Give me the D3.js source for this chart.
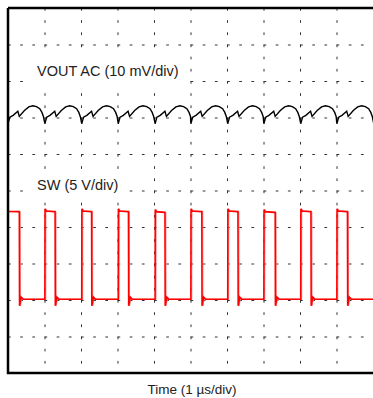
<!DOCTYPE html>
<meta charset="utf-8">
<style>
    body { margin: 0; background: #fff; }
    text { font-family: "Liberation Sans", Arial, sans-serif; fill: #222; }
    .grid line { stroke: #333; stroke-width: 1; stroke-dasharray: 2.7 9.47; }
    .grid path { display: none; }
</style>
<svg width="373" height="398"></svg>
<script src="https://d3js.org/d3.v7.min.js"></script>
<script>
    // SW node: edge times (us) and levels (V), 5 V/div, zero on 8th line
    var swRise = [-0.98, 1.01, 2.02, 3.02, 4.03, 5.01, 6.02, 7.01, 8.02, 9.01];
    var swFall = [0.31, 1.29, 2.29, 3.30, 4.30, 5.31, 6.30, 7.32, 8.30, 9.30];
    var swHigh = [12.2, 12.2, 12.2, 12.2, 12.1, 12.2, 12.2, 12.1, 12.2, 12.2];
    var swLow = 0.1;

    // VOUT AC ripple (mV), one cycle, repeated at each cusp
    var voutCusp = [0.0, 1.01, 2.02, 3.02, 4.03, 5.01, 6.02, 7.01, 8.02, 9.01];
    var voutDt = [0, 0.05, 0.14, 0.27, 0.31, 0.45, 0.57, 0.68, 0.78, 0.87, 0.93, 0.97];
    var voutMv = [-1.7, 0.1, 0.6, 1.7, 0.3, 1.9, 2.9, 3.2, 3.0, 2.4, 1.4, 0.3];

    var labels = { vout: "VOUT AC (10 mV/div)", sw: "SW (5 V/div)", time: "Time (1 \u00b5s/div)" };

    var svg = d3.select("svg"),
        pl = 8, pt = 8, pr = 373, pb = 373;

    var x = d3.scaleLinear().domain([0, 10]).range([pl, pr]);
    var ySw = d3.scaleLinear().domain([-10, 40]).range([pb, pt]);
    var yV = d3.scaleLinear().domain([-70, 30]).range([pb, pt]);

    svg.append("rect").attr("width", 373).attr("height", 398).attr("fill", "#fff");

    svg.append("g").attr("class", "grid")
        .attr("transform", "translate(" + pl + ",0)")
        .call(d3.axisLeft(ySw).tickValues(d3.range(-5, 40, 5)).tickSize(-(pr - pl)).tickFormat(""));
    svg.append("g").attr("class", "grid")
        .attr("transform", "translate(0," + pt + ")")
        .call(d3.axisTop(x).tickValues(d3.range(1, 10)).tickSize(-(pb - pt)).tickFormat(""));

    // white boxes behind the channel labels
    svg.append("rect").attr("x", 28).attr("y", 48).attr("width", 160).attr("height", 43).attr("fill", "#fff");
    svg.append("rect").attr("x", 28).attr("y", 173).attr("width", 100).attr("height", 27).attr("fill", "#fff");

    svg.append("text").attr("x", 37).attr("y", 76).style("font-size", "14.5px").text(labels.vout);
    svg.append("text").attr("x", 37).attr("y", 190).style("font-size", "14.5px").text(labels.sw);

    svg.append("clipPath").attr("id", "plot").append("rect")
        .attr("x", pl).attr("y", pt).attr("width", pr - pl).attr("height", pb - pt);

    // VOUT trace
    var vpts = [];
    voutCusp.forEach(function (c) {
        voutDt.forEach(function (dt, i) { vpts.push([c + dt, voutMv[i]]); });
    });
    vpts.push([10.02, voutMv[0]]);
    var vLine = d3.line().x(function (d) { return x(d[0]); }).y(function (d) { return yV(d[1]); });

    svg.append("path")
        .attr("clip-path", "url(#plot)")
        .attr("d", vLine(vpts))
        .attr("fill", "none").attr("stroke", "#000").attr("stroke-width", 1.4);

    // SW trace
    var spts = [[-1.5, swLow]];
    swRise.forEach(function (r, i) {
        var f = swFall[i], h = swHigh[i];
        spts.push([r, swLow], [r + 0.004, h + 0.3], [r + 0.03, h], [f - 0.02, h - 0.1],
            [f, h - 0.1], [f + 0.006, -0.8], [f + 0.05, swLow + 0.3], [f + 0.1, swLow]);
    });
    spts.push([10.5, swLow]);
    var swLine = d3.line().x(function (d) { return x(d[0]); }).y(function (d) { return ySw(d[1]); });
    svg.append("path")
        .attr("clip-path", "url(#plot)")
        .attr("d", swLine(spts.map(function (d) { return [d[0] + 0.025, d[1]]; })))
        .attr("fill", "none").attr("stroke", "#ff8080").attr("stroke-width", 1);
    svg.append("path")
        .attr("clip-path", "url(#plot)")
        .attr("d", swLine(spts))
        .attr("fill", "none").attr("stroke", "#f00").attr("stroke-width", 1.6);

    // frame
    svg.append("path")
        .attr("d", "M" + pl + "," + pt + "H" + pr + "M" + pl + "," + pt + "V" + pb + "H" + pr)
        .attr("fill", "none").attr("stroke", "#000").attr("stroke-width", 2.5);

    svg.append("text").attr("x", 192).attr("y", 394).attr("text-anchor", "middle")
        .style("font-size", "13.5px").text(labels.time);
</script>
